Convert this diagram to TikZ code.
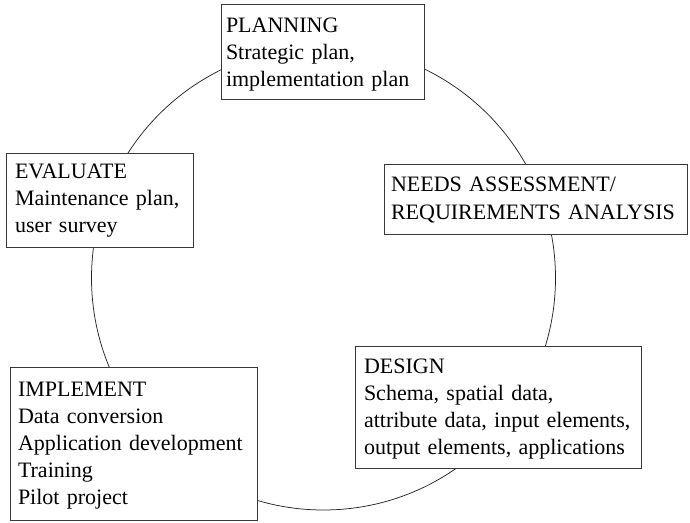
\documentclass[tikz,border=0pt]{standalone}
\usepackage{fontspec}
\setmainfont{Liberation Serif}
\newcommand{\topstrut}[1]{\rule{0pt}{#1bp}}
\newcommand{\botstrut}[1]{\rule[-#1bp]{0pt}{#1bp}}
\begin{document}
\begin{tikzpicture}[x=1bp,y=-1bp,
  stagebox/.style={draw=black!78, line width=0.9bp, fill=white, align=left,
    anchor=north west, inner ysep=0pt, outer sep=0pt,
    font=\fontsize{22bp}{27bp}\selectfont},
  cycleline/.style={draw=black!85, line width=0.75bp}]
\useasboundingbox (0,0) rectangle (690,523);
\coordinate (c) at (323.5,278);
\draw[cycleline] (c) circle[radius=232];
\node[stagebox, inner xsep=5bp, text width=193bp] (plan) at (221,4)
  {\topstrut{29}PLANNING\\Strategic plan,\\implementation plan\botstrut{12}};
\node[stagebox, inner xsep=7bp, text width=289bp] (needs) at (384,164)
  {\topstrut{28}NEEDS ASSESSMENT/\\REQUIREMENTS ANALYSIS\botstrut{15}};
\node[stagebox, inner xsep=9bp, text width=169bp] (eval) at (6,153)
  {\topstrut{26}EVALUATE\\Maintenance plan,\\user survey\botstrut{14}};
\node[stagebox, inner xsep=8bp, text width=231bp] (impl) at (10,367)
  {\topstrut{29}IMPLEMENT\\Data conversion\\Application development\\Training\\Pilot project\botstrut{16}};
\node[stagebox, inner xsep=9bp, text width=268bp] (design) at (355,346)
  {\topstrut{27}DESIGN\\Schema, spatial data,\\attribute data, input elements,\\output elements, applications\botstrut{14}};
\end{tikzpicture}
\end{document}
